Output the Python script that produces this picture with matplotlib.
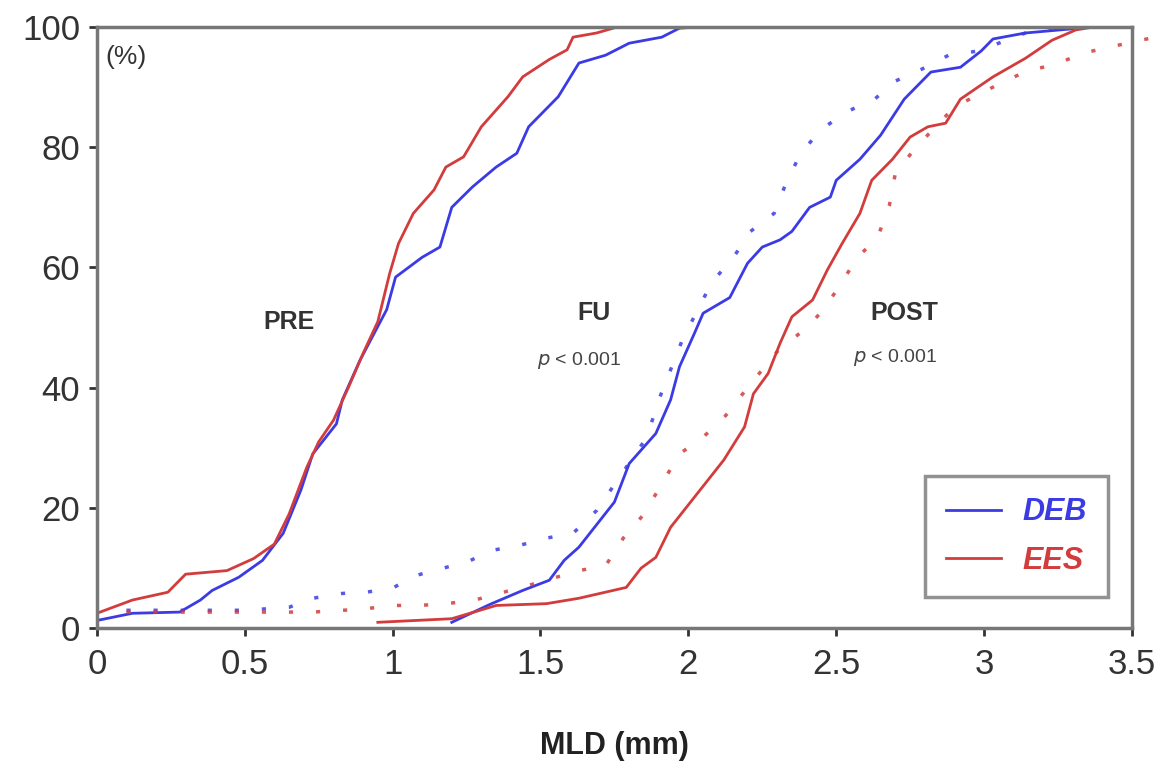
import matplotlib.pyplot as plt

plt.rcParams['font.family'] = ['Liberation Sans', 'DejaVu Sans']

BLUE = '#3b3be6'
RED = '#d23c3c'

# PRE, solid
pre_deb_x = [0.0, 0.12, 0.28, 0.35, 0.39, 0.48, 0.56, 0.63, 0.69, 0.73, 0.81, 0.83, 0.89, 0.98,
             1.01, 1.10, 1.16, 1.20, 1.27, 1.35, 1.42, 1.46, 1.56, 1.63, 1.72, 1.80, 1.91, 1.97, 2.03]
pre_deb_y = [1.3, 2.5, 2.7, 4.7, 6.3, 8.5, 11.3, 15.8, 23, 29, 34, 38, 44.6, 53,
             58.4, 61.7, 63.4, 70, 73.4, 76.7, 79, 83.4, 88.4, 94, 95.3, 97.3, 98.3, 99.8, 100]
pre_ees_x = [0.0, 0.12, 0.24, 0.30, 0.44, 0.53, 0.60, 0.65, 0.71, 0.75, 0.80, 0.85, 0.90, 0.95,
             0.99, 1.02, 1.07, 1.14, 1.18, 1.24, 1.30, 1.39, 1.44, 1.53, 1.59, 1.61, 1.69, 1.76]
pre_ees_y = [2.5, 4.7, 6, 9, 9.6, 11.6, 14, 19, 26.8, 31, 34.6, 40, 45.7, 51,
             59, 64, 69, 72.9, 76.7, 78.4, 83.4, 88.4, 91.7, 94.6, 96.2, 98.3, 99, 100]

# FU, solid
fu_deb_x = [1.20, 1.33, 1.44, 1.53, 1.58, 1.63, 1.75, 1.80, 1.89, 1.94, 1.97, 2.02, 2.05, 2.14,
            2.20, 2.25, 2.31, 2.35, 2.41, 2.48, 2.50, 2.58, 2.65, 2.73, 2.82, 2.92, 2.99, 3.03,
            3.14, 3.37]
fu_deb_y = [1.0, 4, 6.3, 8, 11.3, 13.5, 21, 27.4, 32.4, 38, 43.5, 49, 52.4, 55,
            60.7, 63.4, 64.6, 66, 70, 71.7, 74.5, 78, 82, 88, 92.5, 93.3, 96, 98,
            99, 100]
fu_ees_x = [0.95, 1.20, 1.35, 1.52, 1.63, 1.79, 1.84, 1.89, 1.94, 2.03, 2.12, 2.19, 2.22, 2.27,
            2.31, 2.35, 2.42, 2.47, 2.52, 2.58, 2.62, 2.69, 2.75, 2.81, 2.87, 2.92, 3.03, 3.14,
            3.23, 3.31, 3.37]
fu_ees_y = [1.0, 1.6, 3.8, 4.1, 5, 6.8, 10, 11.8, 16.8, 22.4, 28, 33.5, 39, 42.4,
            47.4, 51.8, 54.6, 59.6, 64, 69, 74.5, 78, 81.7, 83.4, 84, 88, 91.7, 94.8,
            97.8, 99.5, 100]

# POST, dotted
post_deb_x = [0.10, 0.30, 0.50, 0.65, 0.73, 0.83, 0.91, 1.00, 1.08, 1.17, 1.25, 1.34, 1.43, 1.52,
              1.61, 1.69, 1.86, 1.90, 1.98, 2.08, 2.15, 2.21, 2.29, 2.33, 2.38, 2.45, 2.54, 2.63,
              2.70, 2.79, 2.88, 2.98, 3.14, 3.25]
post_deb_y = [3, 3, 3, 3.5, 5, 5.8, 6, 6.7, 8.8, 10, 11, 13, 13.8, 15,
              15.8, 19.6, 31.8, 38, 48, 57.6, 61.5, 66, 69, 74, 79, 83, 86, 88,
              91, 93, 95.3, 96, 99, 100]
post_ees_x = [0.10, 0.30, 0.50, 0.73, 0.90, 1.00, 1.09, 1.18, 1.27, 1.45, 1.63, 1.72, 1.78, 1.85,
              1.91, 1.97, 2.05, 2.12, 2.20, 2.30, 2.40, 2.45, 2.51, 2.57, 2.64, 2.68, 2.70, 2.77,
              2.90, 3.05, 3.15, 3.24, 3.33, 3.43, 3.52, 3.60]
post_ees_y = [2.7, 2.7, 2.7, 2.7, 3.2, 3.8, 3.8, 4.1, 4.6, 7, 9.6, 10.4, 15, 19,
              24, 29, 31.8, 35, 40, 46, 50, 52.6, 56.8, 61.6, 65, 70.4, 75.7, 80,
              86.7, 90.5, 92.8, 93.7, 95.6, 96.7, 97.7, 98.5]

xticks = [0, 0.5, 1, 1.5, 2, 2.5, 3, 3.5]
xtick_labels = ['0', '0.5', '1', '1.5', '2', '2.5', '3', '3.5']
yticks = [0, 20, 40, 60, 80, 100]

fig = plt.figure(figsize=(11.67, 7.7), dpi=100)
ax = fig.add_axes([0.083, 0.184, 0.887, 0.781])

lw = 2.0
ax.plot(pre_deb_x, pre_deb_y, color=BLUE, lw=lw, label='DEB')
ax.plot(pre_ees_x, pre_ees_y, color=RED, lw=lw, label='EES')
ax.plot(fu_deb_x, fu_deb_y, color=BLUE, lw=lw)
ax.plot(fu_ees_x, fu_ees_y, color=RED, lw=lw)
ax.plot(post_deb_x, post_deb_y, color=BLUE, lw=2.5, alpha=0.85, linestyle=(0, (1.2, 6.6)))
ax.plot(post_ees_x, post_ees_y, color=RED, lw=2.5, alpha=0.85, linestyle=(0, (1.2, 6.6)),
        clip_on=False)

ax.set_xlim(0, 3.5)
ax.set_ylim(0, 100)
ax.set_xticks(xticks)
ax.set_xticklabels(xtick_labels)
ax.set_yticks(yticks)
ax.tick_params(axis='both', labelsize=25, colors='#333333', length=6, width=2, direction='out')
ax.tick_params(axis='x', pad=8)
ax.tick_params(axis='y', pad=6)
for sp in ax.spines.values():
    sp.set_color('#777777')
    sp.set_linewidth(2.5)

ax.set_xlabel('MLD (mm)', fontsize=22, fontweight='bold', color='#222222', labelpad=36)

ax.text(0.03, 95, '(%)', fontsize=19, color='#333333', ha='left', va='center')
ax.text(0.65, 51, 'PRE', fontsize=18, fontweight='bold', color='#333333', ha='center', va='center')
ax.text(1.68, 52.4, 'FU', fontsize=18, fontweight='bold', color='#333333', ha='center', va='center')
ax.text(1.63, 44.6, r'$\it{p}$ < 0.001', fontsize=14, color='#444444', ha='center', va='center')
ax.text(2.73, 52.4, 'POST', fontsize=18, fontweight='bold', color='#333333', ha='center', va='center')
ax.text(2.70, 45, r'$\it{p}$ < 0.001', fontsize=14, color='#444444', ha='center', va='center')

leg = ax.legend(loc='lower right', bbox_to_anchor=(0.977, 0.052), fontsize=22, frameon=True,
                fancybox=False, handlelength=1.8, handletextpad=0.7, borderpad=0.7,
                labelspacing=0.6, borderaxespad=0)
leg.get_frame().set_edgecolor('#777777')
leg.get_frame().set_linewidth(2.5)
for txt, c in zip(leg.get_texts(), [BLUE, RED]):
    txt.set_color(c)
    txt.set_fontstyle('italic')
    txt.set_fontweight('bold')

fig.savefig('out.png', dpi=100)
